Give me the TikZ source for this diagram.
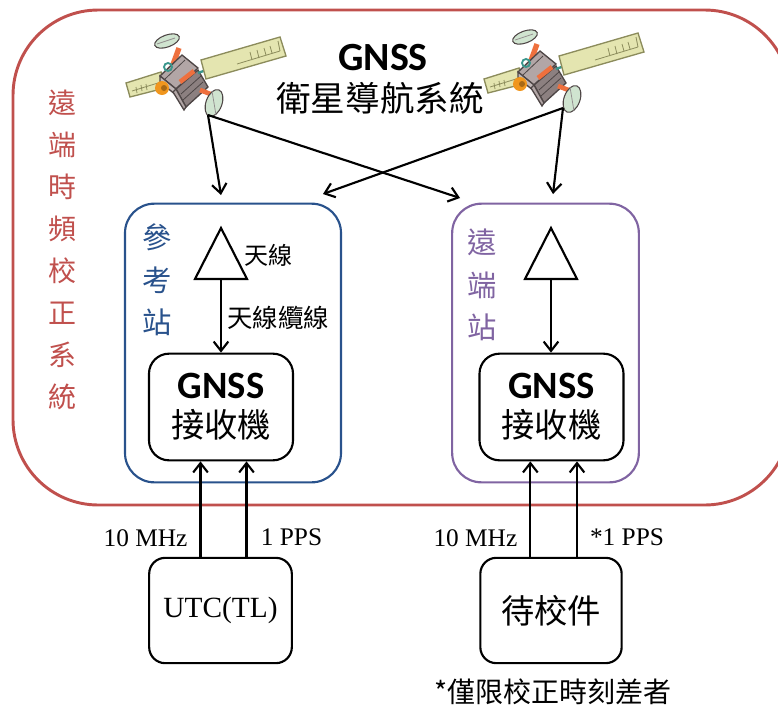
\documentclass[tikz,border=0pt]{standalone}
\usepackage{fontspec}
\setmainfont{Liberation Serif}
\newfontfamily\twfont{Noto Sans CJK TC}
\newfontfamily\gnssfont{Carlito}
\usetikzlibrary{arrows.meta}

\definecolor{sysred}{RGB}{192,80,77}
\definecolor{refblue}{RGB}{41,82,140}
\definecolor{rempurple}{RGB}{128,100,162}
\definecolor{panelfill}{RGB}{228,229,176}
\definecolor{panelline}{RGB}{140,140,92}
\definecolor{bodygray}{RGB}{178,166,166}
\definecolor{bodydark}{RGB}{140,128,128}
\definecolor{bodyline}{RGB}{78,70,70}
\definecolor{rodorange}{RGB}{238,112,62}
\definecolor{dishfill}{RGB}{208,228,208}
\definecolor{rodteal}{RGB}{58,150,140}
\definecolor{engine}{RGB}{240,150,30}

\tikzset{every picture/.style={line width=0.75pt}}

\tikzset{
  arr/.style={line width=1.6pt,-{Straight Barb[length=7pt,width=11pt]}},
  station/.style={draw,line width=1.6pt,rounded corners=22pt,minimum height=209pt},
  recv/.style={draw,line width=1.6pt,rounded corners=15pt,minimum width=108pt,minimum height=80pt,align=center,inner sep=0pt},
  clock/.style={draw,line width=1.6pt,rounded corners=12pt,minimum width=107pt,minimum height=79pt},
  sig/.style={font=\fontsize{19}{20}\selectfont,inner sep=0pt},
  vlabel/.style={align=center,inner sep=0pt,font=\twfont\fontsize{22}{32}\selectfont},
  % little satellite, drawn around its body
  satellite/.pic={
    % left panel
    \draw[panelline,fill=panelfill,line width=1pt] (-56,3) -- (-21,-8) -- (-17,8) -- (-52,17) -- cycle;
    \draw[panelline,line width=0.6pt] (-50,11) -- (-24,3) (-45,13) -- (-46,7) (-40,11) -- (-41,5) (-35,10) -- (-36,4);
    % upper rod and dish
    \draw[rodorange,line width=4pt] (-3,-32) -- (-11,-10);
    \draw[bodyline,fill=dishfill,line width=0.8pt,rotate around={-20:(-15,-39)}] (-15,-39) ellipse [x radius=13,y radius=6];
    \draw[bodyline!60,line width=0.6pt] (-25,-36) -- (-7,-42);
    % body
    \draw[bodyline,fill=bodygray,line width=1pt] (-22,-4) -- (0,-25) -- (16,-12) -- (-6,9) -- cycle;
    \draw[bodyline,fill=bodygray!80,line width=1pt] (-22,-4) -- (-6,9) -- (-6,15) -- (-22,2) -- cycle;
    \draw[bodyline,fill=bodydark,line width=1pt] (-6,9) -- (16,-10) -- (26,7) -- (4,27) -- cycle;
    \draw[bodyline,fill=bodygray,line width=1pt] (-6,9) -- (4,27) -- (2,30) -- (-9,12) -- cycle;
    \draw[bodyline,line width=0.6pt] (-17,-1) -- (3,-20) (-1,14) -- (19,-4) (1,20) -- (21,2);
    \draw[rodorange,line width=3.5pt] (-2,2) -- (12,-9);
    \draw[rodteal,line width=1.4pt] (-14,-13) circle [radius=4];
    \fill[engine] (-20,8) circle [radius=7];
    \fill[engine!70!black] (-18,8) circle [radius=3];
    % lower rod and dish
    \draw[rodorange,line width=3.5pt] (18,10) -- (31,15);
    \draw[bodyline,fill=dishfill,line width=0.8pt,rotate around={20:(32,23)}] (32,23) ellipse [x radius=8,y radius=14];
    \draw[bodyline!60,line width=0.6pt] (30,11) -- (34,35);
    % boom to the right panel
    \draw[rodteal,line width=1.8pt] (16,-7) -- (35,-14);
    \fill[rodteal] (36,-14) circle [radius=3];
    % right panel
    \draw[panelline,fill=panelfill,line width=1pt] (19,-20) -- (98,-43) -- (104,-24) -- (24,-1) -- cycle;
    \draw[panelline,line width=0.6pt] (55,-16) -- (98,-29) (96,-39) -- (98,-29) (70,-20) -- (68,-28) (77,-22) -- (75,-30) (84,-25) -- (82,-32) (90,-27) -- (88,-34);
  }
}

\begin{document}
\begin{tikzpicture}[x=0.75pt,y=0.75pt,yscale=-1,xscale=1]
\useasboundingbox (0,0) rectangle (778,711);

% outer frame
\draw[sysred,line width=2.2pt,rounded corners=64pt] (13,10) rectangle (790,505);
\node[vlabel,text=sysred,font=\twfont\fontsize{21}{31.5}\selectfont] (syslbl) at (62,250) {遠\\端\\時\\頻\\校\\正\\系\\統};

% satellites
\pic[transform shape] at (182,80) {satellite};
\pic[transform shape] at (540,76) {satellite};
\node[inner sep=0pt,font=\gnssfont\bfseries\fontsize{30}{30}\selectfont] (gnss) at (383,58) {GNSS};
\node[inner sep=0pt,font=\twfont\fontsize{26}{26}\selectfont] (gnsssys) at (380,98) {衛星導航系統};

% stations
\node[station,draw=refblue,minimum width=162pt] (refbox) at (233,343) {};
\node[station,draw=rempurple,minimum width=140pt] (rembox) at (545.5,343) {};
\node[vlabel,text=refblue] (reflbl) at (157,280) {參\\考\\站};
\node[vlabel,text=rempurple] (remlbl) at (482,285) {遠\\端\\站};

% receivers
\node[recv] (recvA) at (221,407) {{\gnssfont\bfseries\fontsize{29}{29}\selectfont GNSS}\\[7pt]{\twfont\fontsize{25}{25}\selectfont 接收機}};
\node[recv] (recvB) at (551.5,407) {{\gnssfont\bfseries\fontsize{29}{29}\selectfont GNSS}\\[7pt]{\twfont\fontsize{25}{25}\selectfont 接收機}};

% antennas
\draw[line width=1.6pt] (221,228) -- (247,279) -- (195,279) -- cycle;
\coordinate (antA) at (221,279);
\draw[line width=1.6pt] (551,228) -- (577,279) -- (525,279) -- cycle;
\coordinate (antB) at (551,279);
\draw[arr] (antA) -- (antA |- recvA.north);
\draw[arr] (antB) -- (antB |- recvB.north);
\node[inner sep=0pt,font=\twfont\fontsize{18}{18}\selectfont] (antlbl) at (268,255) {天線};
\node[inner sep=0pt,font=\twfont\fontsize{19}{19}\selectfont] (cablelbl) at (278,318) {天線纜線};

% signal paths from the sky
\coordinate (satA) at (208,115);
\coordinate (satB) at (563,108);
\coordinate (inA1) at (221,195);
\coordinate (inA2) at (323,194);
\coordinate (inB1) at (460,198);
\coordinate (inB2) at (553,194);
\draw[arr] (satA) -- (inA1);
\draw[arr] (satA) -- (inB1);
\draw[arr] (satB) -- (inB2);
\draw[arr] (satB) -- (inA2);

% clocks
\node[clock,font=\fontsize{22}{22}\selectfont] (clkA) at (220.5,610.5) {UTC(TL)};
\node[clock,minimum width=106pt,font=\twfont\fontsize{25}{25}\selectfont] (clkB) at (551,610.5) {待校件};
\draw[arr] ([xshift=-15pt]clkA.north) -- ([xshift=-15pt]clkA.north |- recvA.south) node[sig,pos=0.2,left=9pt] (fA) {10 MHz};
\draw[arr] ([xshift=19.5pt]clkA.north) -- ([xshift=19.5pt]clkA.north |- recvA.south) node[sig,pos=0.2,right=10pt] (pA) {1 PPS};
\draw[arr] ([xshift=-15.5pt]clkB.north) -- ([xshift=-15.5pt]clkB.north |- recvB.south) node[sig,pos=0.2,left=9pt] (fB) {10 MHz};
\draw[arr] ([xshift=19.5pt]clkB.north) -- ([xshift=19.5pt]clkB.north |- recvB.south) node[sig,pos=0.2,right=9pt] (pB) {*1 PPS};

% note
\node[inner sep=0pt,font=\twfont\fontsize{21}{21}\selectfont] (note) at (553,692) {*僅限校正時刻差者};

\end{tikzpicture}
\end{document}
